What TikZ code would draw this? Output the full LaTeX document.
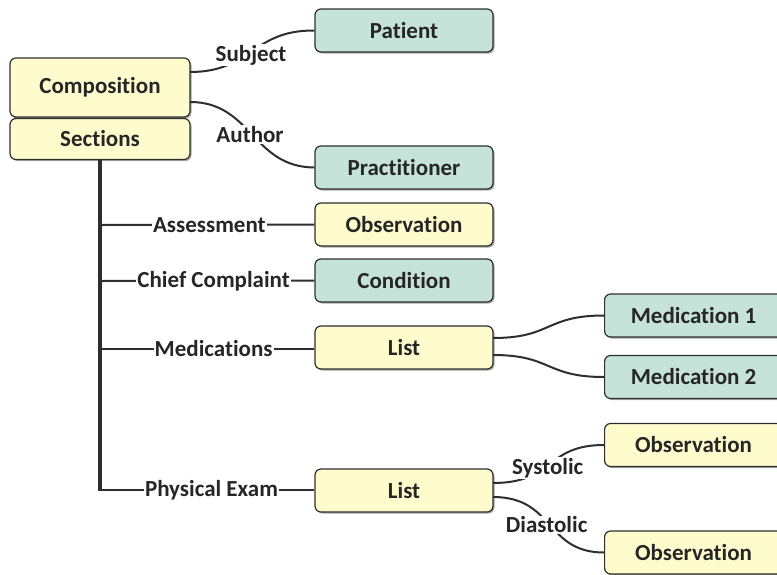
\documentclass[tikz,border=0pt]{standalone}
\usepackage{fontspec}
\setmainfont{Carlito}[Ligatures={NoCommon,NoRequired}]
\usetikzlibrary{shadows}
\definecolor{boxyellow}{HTML}{FEFCCD}
\definecolor{boxteal}{HTML}{C6E3D9}
\definecolor{edgegray}{HTML}{2E2E2E}
\definecolor{txt}{HTML}{262626}
\tikzset{
  box/.style={draw=edgegray, line width=1.2pt, rounded corners=6pt, minimum width=178pt, minimum height=43pt,
    inner sep=0pt, font=\fontsize{23}{27}\selectfont\bfseries, text=txt,
    drop shadow={shadow xshift=1.5pt, shadow yshift=-1.5pt, opacity=0.35, fill=black}},
  ybox/.style={box, fill=boxyellow},
  tbox/.style={box, fill=boxteal},
  conn/.style={draw=edgegray, line width=2pt},
  trunk/.style={draw=edgegray, line width=3.5pt},
  lbl/.style={fill=white, inner sep=1pt, font=\fontsize{23}{27}\selectfont\bfseries, text=txt},
}
\begin{document}
\begin{tikzpicture}[x=1pt,y=-1pt]
\useasboundingbox (0,0) rectangle (777,574);
% boxes
\node[ybox, minimum width=180pt, minimum height=59pt] (comp) at (100,87.5) {Composition};
\node[ybox, minimum width=180pt, minimum height=41pt] (sect) at (100,139) {Sections};
\node[tbox] (patient) at (404,30.5) {Patient};
\node[tbox] (pract) at (404,167.5) {Practitioner};
\node[ybox] (obs1) at (404,224.5) {Observation};
\node[tbox] (cond) at (404,280.5) {Condition};
\node[ybox] (list1) at (404,347.5) {List};
\node[tbox, anchor=west] (med1) at (604,315.5) {Medication 1};
\node[tbox, anchor=west] (med2) at (604,377) {Medication 2};
\node[ybox] (list2) at (404,490.5) {List};
\node[ybox, anchor=west] (obs2) at (604,445) {Observation};
\node[ybox, anchor=west] (obs3) at (604,552.5) {Observation};
% trunk
\coordinate (t1) at (100,225);
\coordinate (t2) at (100,281);
\coordinate (t3) at (100,349);
\coordinate (t4) at (100,490);
\draw[trunk] (sect.south) -- ([yshift=-1pt]t4);
% branches
\draw[conn] (t1) -- (obs1.west) node[lbl, pos=0.51] {Assessment};
\draw[conn] (t2) -- (cond.west) node[lbl, pos=0.53] {Chief Complaint};
\draw[conn] (t3) -- (list1.west |- t3) node[lbl, pos=0.53] {Medications};
\draw[conn] (t4) -- (list2.west |- t4) node[lbl, pos=0.52] {Physical Exam};
% curved connectors
\coordinate (c1) at (190,72);
\coordinate (c2) at (190,102);
\draw[conn] (c1) .. controls (252,72) and (252,30) .. (patient.west) node[lbl, pos=0.5, yshift=-4pt, xshift=-1pt] {Subject};
\draw[conn] (c2) .. controls (252,102) and (252,167) .. (pract.west) node[lbl, pos=0.5, xshift=-2pt] {Author};
\coordinate (l1a) at (493,338);
\coordinate (l1b) at (493,355);
\draw[conn] (l1a) .. controls (552,338) and (545,315.5) .. (med1.west);
\draw[conn] (l1b) .. controls (552,355) and (545,377) .. (med2.west);
\coordinate (l2a) at (493,483);
\coordinate (l2b) at (493,497);
\draw[conn] (l2a) .. controls (555,483) and (545,445) .. (obs2.west) node[lbl, pos=0.5, yshift=-4pt, xshift=-2pt] {Systolic};
\draw[conn] (l2b) .. controls (555,497) and (545,552.5) .. (obs3.west) node[lbl, pos=0.5, xshift=-3pt] {Diastolic};
\end{tikzpicture}
\end{document}
